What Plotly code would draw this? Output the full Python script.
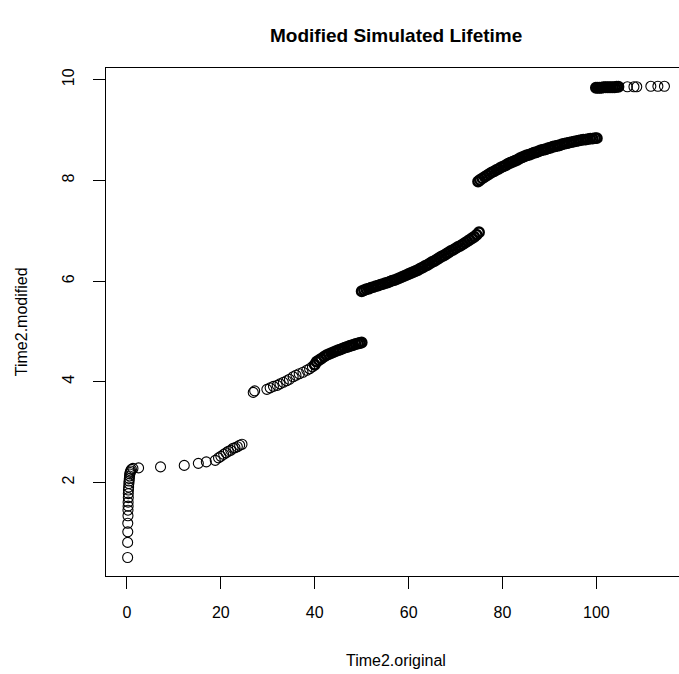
import plotly.graph_objects as go

# ---- data ----
# first group: steep rise near 0, then a few scattered points up to ~25
seg1_x = [0.14, 0.14, 0.17, 0.17, 0.21, 0.21, 0.24, 0.24, 0.28, 0.28, 0.31, 0.35, 0.40, 0.45,
          0.50, 0.55, 0.60, 0.68, 0.78, 0.95, 1.27,
          2.47, 7.15, 12.2, 15.2, 16.9, 18.8,
          19.5, 20.0, 20.6, 21.1, 21.6, 22.1, 22.6, 23.0, 23.5, 24.0, 24.5]
seg1_y = [0.51, 0.81, 1.02, 1.19, 1.34, 1.45, 1.53, 1.61, 1.70, 1.78, 1.85, 1.91, 1.98, 2.03,
          2.08, 2.13, 2.17, 2.20, 2.23, 2.26, 2.28,
          2.29, 2.31, 2.34, 2.38, 2.41, 2.44,
          2.49, 2.52, 2.56, 2.59, 2.62, 2.64, 2.68, 2.69, 2.71, 2.74, 2.76]

# second group 27-40 (sparser part)
seg2a_x = [26.9, 27.2, 29.8, 30.5, 31.2, 32.0, 32.6, 33.3, 34.0, 34.6, 35.4, 36.0, 36.7, 37.5,
           38.3, 38.9, 39.5]
seg2a_y = [3.79, 3.82, 3.85, 3.88, 3.91, 3.93, 3.96, 3.99, 4.02, 4.05, 4.10, 4.13, 4.16, 4.19,
           4.23, 4.26, 4.30]
# second group 40-50 (dense part)
seg2b_x = [40.0, 40.4, 40.9, 41.4, 42.0, 42.5, 43.0, 43.5, 44.0, 44.5, 45.0,
           45.4, 45.9, 46.4, 46.9, 47.4, 47.8, 48.2, 48.7, 49.2, 49.6, 50.0]
seg2b_y = [4.34, 4.40, 4.43, 4.46, 4.50, 4.53, 4.55, 4.57, 4.59, 4.61, 4.63,
           4.64, 4.66, 4.68, 4.69, 4.71, 4.72, 4.73, 4.75, 4.76, 4.77, 4.78]

seg3_x = [50.0, 50.5, 51.0, 51.5, 52.0, 52.5, 53.0, 53.5, 54.0, 54.5, 55.0, 55.5, 56.0, 56.5,
          57.0, 57.5, 58.0, 58.5, 59.0, 59.5, 60.0, 60.5, 61.0, 61.5, 62.0, 62.5, 63.0, 63.5,
          64.0, 64.5, 65.0, 65.5, 66.0, 66.5, 67.0, 67.5, 68.0, 68.5, 69.0, 69.5, 70.0, 70.5,
          71.0, 71.5, 72.0, 72.5, 73.0, 73.5, 74.0, 74.5, 75.0]
seg3_y = [5.80, 5.82, 5.84, 5.85, 5.87, 5.88, 5.90, 5.91, 5.93, 5.94, 5.96, 5.97, 5.99, 6.01,
          6.02, 6.04, 6.06, 6.08, 6.10, 6.12, 6.14, 6.16, 6.18, 6.20, 6.22, 6.25, 6.27, 6.30,
          6.32, 6.35, 6.38, 6.40, 6.43, 6.46, 6.49, 6.51, 6.54, 6.57, 6.60, 6.62, 6.65, 6.68,
          6.70, 6.73, 6.76, 6.79, 6.82, 6.85, 6.88, 6.92, 6.97]

seg4_x = [74.8, 75.2, 75.7, 76.2, 76.7, 77.2, 77.7, 78.2, 78.7, 79.2, 79.7, 80.2, 80.7, 81.2,
          81.7, 82.2, 82.7, 83.2, 83.7, 84.2, 84.7, 85.2, 85.7, 86.2, 86.7, 87.2, 87.7, 88.2,
          88.7, 89.2, 89.7, 90.2, 90.7, 91.2, 91.7, 92.2, 92.7, 93.2, 93.7, 94.2, 94.7, 95.2,
          95.7, 96.2, 96.7, 97.2, 97.7, 98.2, 98.7, 99.2, 99.7, 100.1]
seg4_y = [7.98, 8.01, 8.04, 8.07, 8.10, 8.13, 8.16, 8.18, 8.21, 8.23, 8.26, 8.28, 8.30, 8.33,
          8.35, 8.37, 8.39, 8.41, 8.44, 8.46, 8.48, 8.50, 8.51, 8.53, 8.55, 8.56, 8.58, 8.60,
          8.61, 8.62, 8.64, 8.65, 8.67, 8.68, 8.69, 8.70, 8.72, 8.73, 8.74, 8.75, 8.76, 8.77,
          8.78, 8.79, 8.80, 8.81, 8.81, 8.82, 8.83, 8.83, 8.84, 8.84]

# last group: dense run 100-105, then a few separate points
seg5a_x = [99.9, 100.3, 100.7, 101.1, 101.5, 101.9, 102.3, 102.7, 103.1, 103.5, 103.9, 104.3, 104.7]
seg5a_y = [9.84, 9.84, 9.84, 9.84, 9.85, 9.85, 9.85, 9.85, 9.85, 9.85, 9.85, 9.86, 9.86]
seg5b_x = [106.6, 108.0, 108.6, 111.6, 113.1, 114.5]
seg5b_y = [9.86, 9.86, 9.86, 9.87, 9.87, 9.87]

x_ticks = [0, 20, 40, 60, 80, 100]
y_ticks = [2, 4, 6, 8, 10]

title_text = "Modified Simulated Lifetime"
x_title = "Time2.original"
y_title = "Time2.modified"

sparse_x = seg1_x + seg2a_x + seg5b_x
sparse_y = seg1_y + seg2a_y + seg5b_y
dense_x = seg2b_x + seg3_x + seg4_x + seg5a_x
dense_y = seg2b_y + seg3_y + seg4_y + seg5a_y

FONT = "Liberation Sans, Arial, Helvetica, sans-serif"

fig = go.Figure()
fig.add_trace(go.Scatter(
    x=sparse_x, y=sparse_y, mode="markers",
    marker=dict(symbol="circle-open", size=10, color="black", line=dict(width=1.1, color="black")),
    hoverinfo="x+y", showlegend=False,
))
fig.add_trace(go.Scatter(
    x=dense_x, y=dense_y, mode="markers",
    marker=dict(symbol="circle-open", size=9.5, color="black", line=dict(width=2.4, color="black")),
    hoverinfo="x+y", showlegend=False,
))

fig.update_layout(
    width=679, height=674,
    margin=dict(l=106, r=0, t=68, b=98, autoexpand=False),
    paper_bgcolor="white", plot_bgcolor="white",
    font=dict(family=FONT, size=16, color="black"),
    xaxis=dict(
        range=[-4.47, 117.6], tickvals=x_ticks, ticktext=[str(v) for v in x_ticks],
        showgrid=False, zeroline=False, showline=True, linecolor="black", linewidth=1,
        mirror=True, ticks="outside", ticklen=12, tickwidth=1, tickcolor="black",
        tickfont=dict(size=16, family=FONT), ticklabelstandoff=10,
    ),
    yaxis=dict(
        range=[0.143, 10.233], tickvals=y_ticks, ticktext=[str(v) for v in y_ticks],
        showgrid=False, zeroline=False, showline=True, linecolor="black", linewidth=1,
        ticks="outside", ticklen=12, tickwidth=1, tickcolor="black", tickangle=-90,
        tickfont=dict(size=16, family=FONT), ticklabelstandoff=13,
    ),
    annotations=[
        dict(text="<b>" + title_text + "</b>", xref="paper", yref="paper", x=0.5064, y=1.0641,
             xanchor="center", yanchor="middle", showarrow=False, font=dict(size=19, family=FONT)),
        dict(text=x_title, xref="paper", yref="paper", x=0.5064, y=-0.166,
             xanchor="center", yanchor="middle", showarrow=False, font=dict(size=16, family=FONT)),
        dict(text=y_title, xref="paper", yref="paper", x=-0.148, y=0.5, textangle=-90,
             xanchor="center", yanchor="middle", showarrow=False, font=dict(size=16, family=FONT)),
    ],
)

# remove the browser's default 8px body margin so the figure fills the window exactly
fig.write_html(
    "out.html",
    config={"displayModeBar": False},
    post_script="document.body.style.margin='0';document.body.style.overflow='hidden';",
)
